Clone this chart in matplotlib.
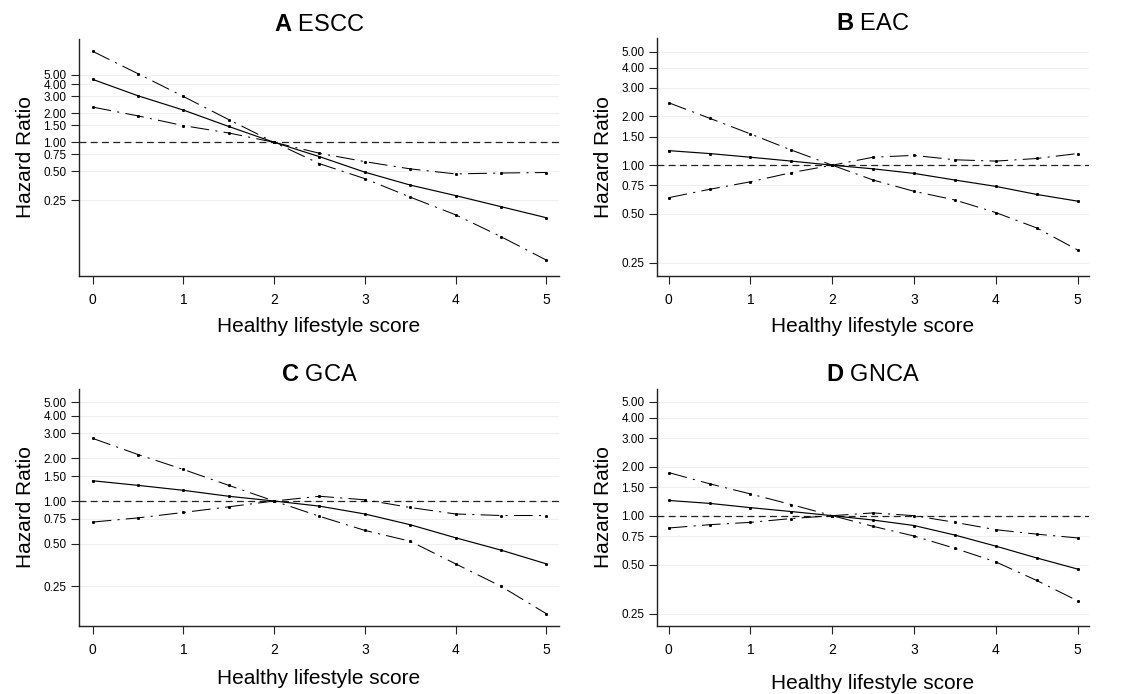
import matplotlib
matplotlib.use('Agg')
import matplotlib.pyplot as plt
from matplotlib.ticker import FixedLocator, FixedFormatter, NullLocator

plt.rcParams['font.family'] = ['Liberation Sans', 'DejaVu Sans']
plt.rcParams['mathtext.fontset'] = 'custom'
plt.rcParams['mathtext.rm'] = 'Liberation Sans'
plt.rcParams['mathtext.bf'] = 'Liberation Sans:bold'

# healthy lifestyle score grid
score = [0, 0.5, 1, 1.5, 2, 2.5, 3, 3.5, 4, 4.5, 5]

# A ESCC
escc_hr = [4.50, 3.04, 2.16, 1.46, 1.00, 0.71, 0.49, 0.36, 0.28, 0.215, 0.165]
escc_upper = [8.8, 5.15, 2.99, 1.72, 1.00, 0.77, 0.63, 0.53, 0.47, 0.48, 0.486]
escc_lower = [2.32, 1.88, 1.49, 1.25, 1.00, 0.60, 0.42, 0.27, 0.177, 0.105, 0.06]

# B EAC
eac_hr = [1.23, 1.18, 1.12, 1.06, 1.00, 0.95, 0.89, 0.81, 0.74, 0.66, 0.60]
eac_upper = [2.43, 1.95, 1.56, 1.24, 1.00, 1.12, 1.15, 1.08, 1.06, 1.10, 1.18]
eac_lower = [0.63, 0.71, 0.79, 0.90, 1.00, 0.81, 0.69, 0.61, 0.51, 0.41, 0.30]

# C GCA
gca_hr = [1.39, 1.29, 1.19, 1.08, 1.00, 0.92, 0.81, 0.68, 0.55, 0.45, 0.36]
gca_upper = [2.77, 2.13, 1.67, 1.29, 1.00, 1.08, 1.02, 0.90, 0.81, 0.79, 0.79]
gca_lower = [0.71, 0.76, 0.83, 0.91, 1.00, 0.78, 0.62, 0.52, 0.36, 0.25, 0.16]

# D GNCA
gnca_hr = [1.24, 1.19, 1.12, 1.06, 1.00, 0.94, 0.87, 0.76, 0.65, 0.55, 0.47]
gnca_upper = [1.84, 1.57, 1.36, 1.17, 1.00, 1.04, 1.00, 0.91, 0.82, 0.77, 0.73]
gnca_lower = [0.84, 0.88, 0.91, 0.96, 1.00, 0.86, 0.75, 0.63, 0.52, 0.40, 0.30]

yticks = [0.25, 0.5, 0.75, 1, 1.5, 2, 3, 4, 5]
ytick_labels = ['0.25', '0.50', '0.75', '1.00', '1.50', '2.00', '3.00', '4.00', '5.00']
xticks = [0, 1, 2, 3, 4, 5]

fig = plt.figure(figsize=(11.4, 6.94), dpi=100)

W, H = 1140, 694
def px_axes(l, t, r, b):
    return fig.add_axes([l / W, 1 - b / H, (r - l) / W, (b - t) / H])

panels = [
    ('A', 'ESCC', escc_hr, escc_upper, escc_lower, (79, 39, 559, 276), (0.041, 11.8), (-0.15, 5.14), 7.8),
    ('B', 'EAC', eac_hr, eac_upper, eac_lower, (657, 38, 1089, 276), (0.207, 6.1), (-0.143, 5.14), 7.8),
    ('C', 'GCA', gca_hr, gca_upper, gca_lower, (79, 389, 559, 626), (0.131, 6.18), (-0.15, 5.14), 8.7),
    ('D', 'GNCA', gnca_hr, gnca_upper, gnca_lower, (657, 389, 1089, 626), (0.21, 6.0), (-0.143, 5.14), 12.3),
]

spine_col = '#222222'
for letter, name, hr, up, lo, box, ylim, xlim, xpad in panels:
    ax = px_axes(*box)
    ax.set_yscale('log')
    ax.set_ylim(*ylim)
    ax.set_xlim(*xlim)

    for v in yticks:
        ax.axhline(v, color='#efefef', lw=0.8, zorder=0)
    ax.axhline(1, color='#222222', lw=0.9, dashes=(5.5, 3.5), zorder=1)

    ci_style = dict(color='black', lw=0.75, dashes=(18, 6, 2, 6),
                    marker='s', markersize=1.1, zorder=2)
    ax.plot(score, up, **ci_style)
    ax.plot(score, lo, **ci_style)
    ax.plot(score, hr, color='black', lw=0.85, marker='s', markersize=1.1, zorder=3)

    ax.yaxis.set_major_locator(FixedLocator(yticks))
    ax.yaxis.set_major_formatter(FixedFormatter(ytick_labels))
    ax.yaxis.set_minor_locator(NullLocator())
    ax.set_xticks(xticks)
    ax.tick_params(axis='y', labelsize=8.5, length=6, width=0.8, color=spine_col, pad=3)
    ax.tick_params(axis='x', labelsize=10, length=6, width=0.8, color=spine_col, pad=6)

    for s in ['top', 'right']:
        ax.spines[s].set_visible(False)
    for s in ['left', 'bottom']:
        ax.spines[s].set_color(spine_col)
        ax.spines[s].set_linewidth(1.0)

    ax.set_ylabel('Hazard Ratio', fontsize=15, labelpad=6)
    ax.set_xlabel('Healthy lifestyle score', fontsize=15, labelpad=xpad)
    ax.set_title(r'$\mathbf{%s}$ %s' % (letter, name), fontsize=17, pad=6)

fig.savefig('out.png', dpi=100)
